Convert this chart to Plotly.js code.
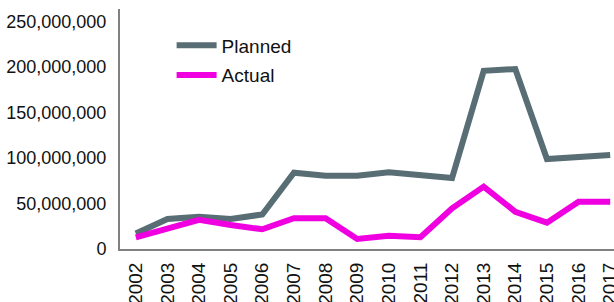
<!DOCTYPE html>
<html>
<head>
<meta charset="utf-8">
<script src="https://cdn.plot.ly/plotly-3.0.1.min.js"></script>
<style>
html,body{margin:0;padding:0;overflow:hidden;background:#fff;}
#chart{width:630px;height:302px;}
</style>
</head>
<body>
<div id="chart"></div>
<script>
const years = ["2002","2003","2004","2005","2006","2007","2008","2009","2010","2011","2012","2013","2014","2015","2016","2017"];
const planned = [17000000,33000000,35500000,33000000,38000000,84000000,80700000,80700000,84500000,82000000,78000000,196000000,198000000,99000000,101500000,103500000];
const actual = [12900000,22800000,32000000,26400000,21700000,33800000,33800000,11000000,14600000,12900000,44800000,68600000,41000000,29000000,52000000,52000000];
const yTicks = [0,50000000,100000000,150000000,200000000,250000000];
const yTickText = ["0","50,000,000","100,000,000","150,000,000","200,000,000","250,000,000"];

const traces = [
  {x: years, y: planned, name: "Planned", type: "scatter", mode: "lines", legendgroup: "p",
   line: {color: "#586d74", width: 6}},
  {x: years, y: actual, name: "Actual", type: "scatter", mode: "lines", legendgroup: "a",
   line: {color: "#f000e0", width: 6}}
];
const layout = {
  width: 630, height: 302,
  margin: {l: 120, r: 4, t: 9, b: 53},
  paper_bgcolor: "#fff", plot_bgcolor: "#fff",
  font: {family: "Liberation Sans, Arial, sans-serif", size: 18, color: "#111"},
  showlegend: true,
  legend: {x: 0.102, y: 0.927, xanchor: "left", yanchor: "top", bgcolor: "rgba(0,0,0,0)",
           font: {size: 19}, tracegroupgap: 2, itemwidth: 40},
  xaxis: {type: "category", range: [-0.5, 15.5], showgrid: false, zeroline: false,
          showline: true, linecolor: "#808080", linewidth: 2, tickangle: -90,
          tickfont: {size: 19},
          ticks: "outside", ticklen: 4, tickcolor: "rgba(0,0,0,0)", fixedrange: true},
  yaxis: {range: [0, 264000000], showgrid: false, zeroline: false, showline: true,
          linecolor: "#808080", linewidth: 2, tickvals: yTicks, ticktext: yTickText,
          ticks: "outside", ticklen: 8, tickcolor: "rgba(0,0,0,0)", fixedrange: true}
};
Plotly.newPlot("chart", traces, layout, {displayModeBar: false, staticPlot: true});
</script>
</body>
</html>
